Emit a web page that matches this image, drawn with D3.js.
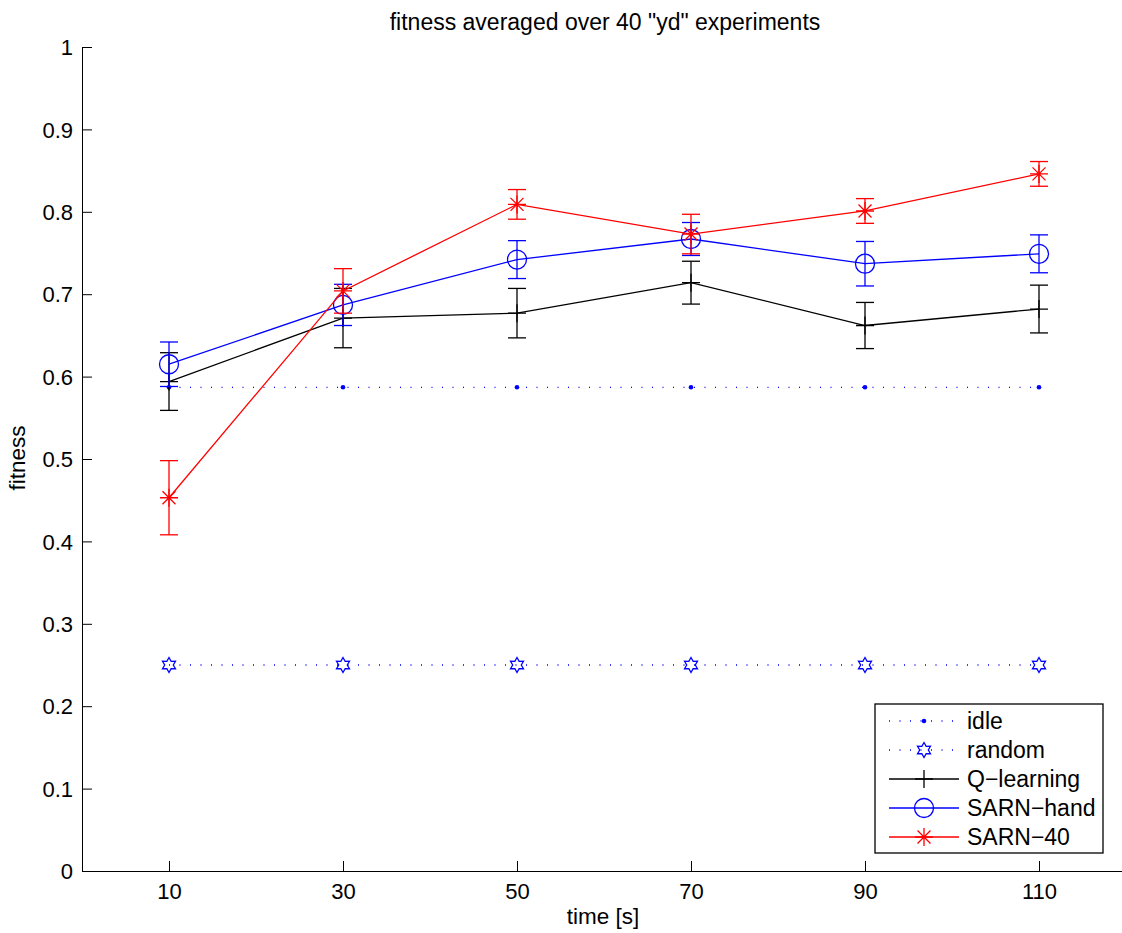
<!DOCTYPE html>
<html lang="en">
<head>
<meta charset="utf-8">
<title>fitness</title>
<script src="https://cdnjs.cloudflare.com/ajax/libs/d3/7.8.5/d3.min.js"></script>
<style>
  body { margin: 0; background: #fff; }
  text { font-family: "Liberation Sans", Arial, sans-serif; fill: #000; }
</style>
</head>
<body>
<script>
// data
var times = [10, 30, 50, 70, 90, 110];
var idle = [0.587, 0.587, 0.587, 0.587, 0.587, 0.587];
var random = [0.25, 0.25, 0.25, 0.25, 0.25, 0.25];
var qMean = [0.594, 0.671, 0.677, 0.714, 0.662, 0.682];
var qErr = [0.035, 0.036, 0.030, 0.026, 0.028, 0.029];
var handMean = [0.615, 0.687, 0.742, 0.767, 0.737, 0.749];
var handErr = [0.027, 0.025, 0.023, 0.020, 0.027, 0.023];
var sarnMean = [0.453, 0.704, 0.809, 0.773, 0.801, 0.846];
var sarnErr = [0.045, 0.027, 0.018, 0.024, 0.015, 0.015];
var xTicks = [10, 30, 50, 70, 90, 110];
var yTicks = [0, 0.1, 0.2, 0.3, 0.4, 0.5, 0.6, 0.7, 0.8, 0.9, 1];

var width = 1122, height = 933;
var plotLeft = 82, plotRight = 1126, plotTop = 47, plotBottom = 871;

var svg = d3.select("body").append("svg")
    .attr("width", width)
    .attr("height", height);

var x = d3.scaleLinear().domain([0, 120]).range([plotLeft, plotRight]);
var y = d3.scaleLinear().domain([0, 1]).range([plotBottom, plotTop]);

// axes
var xAxis = d3.axisBottom(x).tickValues(xTicks).tickSizeInner(-10).tickSizeOuter(0).tickPadding(12);
var yAxis = d3.axisLeft(y).tickValues(yTicks).tickSizeInner(-10).tickSizeOuter(0).tickPadding(9)
    .tickFormat(function(d) { return d === 0 ? "0" : d === 1 ? "1" : d3.format(".1f")(d); });

var gx = svg.append("g").attr("transform", "translate(0," + plotBottom + ")").call(xAxis);
var gy = svg.append("g").attr("transform", "translate(" + plotLeft + ",0)").call(yAxis);
[gx, gy].forEach(function(g) {
    g.select(".domain").attr("stroke", "#000").attr("stroke-width", 1);
    g.selectAll(".tick line").attr("stroke", "#000");
    g.selectAll(".tick text").style("font-size", "22px").attr("fill", "#000");
});
gx.selectAll(".tick text").attr("dy", "0.71em");
gy.selectAll(".tick text").attr("dy", "0.35em");

svg.append("text").attr("x", 605).attr("y", 30).attr("text-anchor", "middle")
    .style("font-size", "23px").text('fitness averaged over 40 "yd" experiments');
svg.append("text").attr("x", 603).attr("y", 924).attr("text-anchor", "middle")
    .style("font-size", "22.5px").text("time [s]");
svg.append("text").attr("transform", "translate(25,458) rotate(-90)").attr("text-anchor", "middle")
    .style("font-size", "22.5px").text("fitness");

// marker drawers
function markerPath(type) {
    var p = d3.path();
    if (type === "plus") {
        p.moveTo(-9, 0); p.lineTo(9, 0); p.moveTo(0, -9); p.lineTo(0, 9);
    } else if (type === "star") {
        p.moveTo(-9, 0); p.lineTo(9, 0); p.moveTo(0, -9); p.lineTo(0, 9);
        p.moveTo(-6.5, -6.5); p.lineTo(6.5, 6.5); p.moveTo(-6.5, 6.5); p.lineTo(6.5, -6.5);
    } else if (type === "hexagram") {
        var pts = [];
        for (var i = 0; i < 12; i++) {
            var a = -Math.PI / 2 + i * Math.PI / 6;
            var r = i % 2 === 0 ? 7.5 : 4.3;
            pts.push([r * Math.cos(a), r * Math.sin(a)]);
        }
        p.moveTo(pts[0][0], pts[0][1]);
        pts.slice(1).forEach(function(q) { p.lineTo(q[0], q[1]); });
        p.closePath();
    }
    return p.toString();
}

function drawMarker(g, type, color, cx, cy) {
    if (type === "circle") {
        g.append("circle").attr("cx", cx).attr("cy", cy).attr("r", 9.5)
            .attr("fill", "none").attr("stroke", color).attr("stroke-width", 1.3);
    } else if (type === "dot") {
        g.append("circle").attr("cx", cx).attr("cy", cy).attr("r", 2.3).attr("fill", color);
    } else {
        g.append("path").attr("d", markerPath(type)).attr("transform", "translate(" + cx + "," + cy + ")")
            .attr("fill", "none").attr("stroke", color).attr("stroke-width", 1.3);
    }
}

var line = d3.line().x(function(d) { return x(d[0]); }).y(function(d) { return y(d[1]); });

var series = [
    { name: "idle", values: idle, color: "#0000ff", dash: "1,9.5", marker: "dot" },
    { name: "random", values: random, color: "#0000ff", dash: "1,9.5", marker: "hexagram" },
    { name: "Q\u2212learning", values: qMean, err: qErr, color: "#000000", marker: "plus" },
    { name: "SARN\u2212hand", values: handMean, err: handErr, color: "#0000ff", marker: "circle" },
    { name: "SARN\u221240", values: sarnMean, err: sarnErr, color: "#ff0000", marker: "star" }
];

series.forEach(function(s) {
    var g = svg.append("g");
    if (s.err) {
        times.forEach(function(t, i) {
            var cx = x(t), y0 = y(s.values[i] - s.err[i]), y1 = y(s.values[i] + s.err[i]);
            g.append("line").attr("x1", cx).attr("x2", cx).attr("y1", y0).attr("y2", y1)
                .attr("stroke", s.color).attr("stroke-width", 1.3);
            [y0, y1].forEach(function(yy) {
                g.append("line").attr("x1", cx - 9).attr("x2", cx + 9).attr("y1", yy).attr("y2", yy)
                    .attr("stroke", s.color).attr("stroke-width", 1.3);
            });
        });
    }
    g.append("path").datum(times.map(function(t, i) { return [t, s.values[i]]; }))
        .attr("d", line).attr("fill", "none").attr("stroke", s.color).attr("stroke-width", 1.3)
        .attr("stroke-dasharray", s.dash || null);
    times.forEach(function(t, i) { drawMarker(g, s.marker, s.color, x(t), y(s.values[i])); });
});

// legend
var lg = svg.append("g").attr("transform", "translate(875,704)");
lg.append("rect").attr("width", 228).attr("height", 149).attr("fill", "#fff")
    .attr("stroke", "#000").attr("stroke-width", 1.3);
series.forEach(function(s, i) {
    var yy = 17 + i * 29;
    lg.append("line").attr("x1", 14).attr("x2", 84).attr("y1", yy).attr("y2", yy)
        .attr("stroke", s.color).attr("stroke-width", 1.3).attr("stroke-dasharray", s.dash || null);
    drawMarker(lg, s.marker, s.color, 49, yy);
    lg.append("text").attr("x", 92).attr("y", yy).attr("dy", "0.35em")
        .style("font-size", "23px").text(s.name);
});
</script>
</body>
</html>
